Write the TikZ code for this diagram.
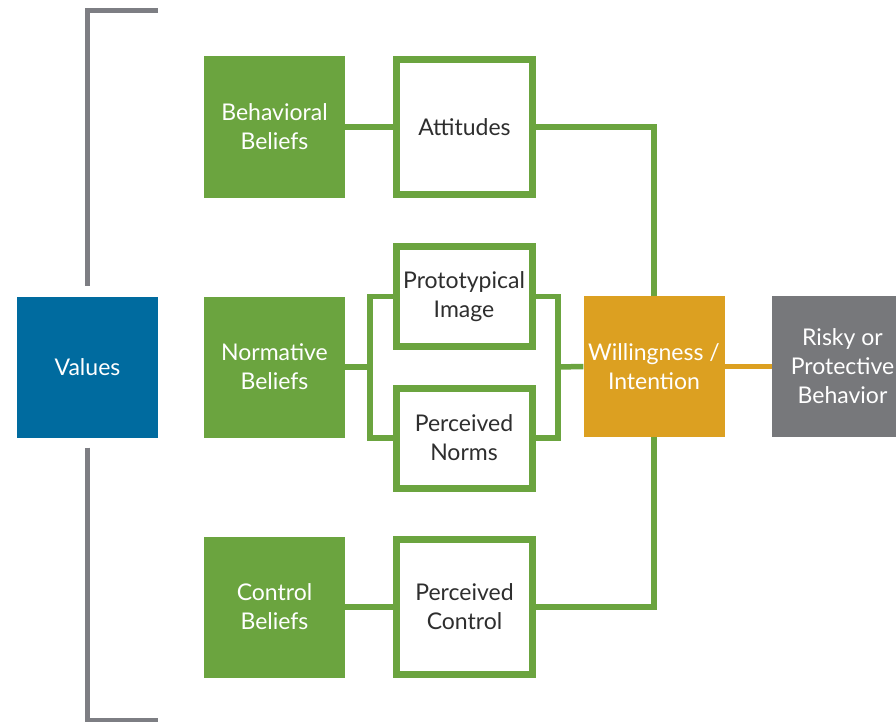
\documentclass[tikz,border=0pt]{standalone}
\usepackage{fontspec}
\setmainfont{Lato}
\usetikzlibrary{calc}
\definecolor{beliefgreen}{HTML}{6BA43F}
\definecolor{valueblue}{HTML}{006B9F}
\definecolor{willorange}{HTML}{DCA021}
\definecolor{behavgray}{HTML}{77787B}
\definecolor{bracketgray}{HTML}{7D7E83}
\definecolor{textdark}{HTML}{2E2E2E}
\begin{document}
\begin{tikzpicture}[x=1pt, y=-1pt,
    font=\fontsize{23}{29}\selectfont,
    block/.style={rectangle, inner sep=0pt, minimum width=141pt, minimum height=141pt, align=center, text=white},
    belief/.style={block, fill=beliefgreen},
    construct/.style={rectangle, inner sep=0pt, minimum width=136pt, draw=beliefgreen, line width=7pt, fill=white, align=center, text=textdark},
    link/.style={draw=beliefgreen, line width=5.5pt},
    bracket/.style={draw=bracketgray, line width=5pt}]
    \useasboundingbox (0,0) rectangle (896,722);
    \clip (0,0) rectangle (896,722);
    % Values
    \node[block, fill=valueblue] (vals) at (87.5,367) {Values};
    \coordinate (brtop) at (158,11);
    \coordinate (brbot) at (158,720);
    \draw[bracket] (brtop) -| ($(vals.north)+(0,-10)$);
    \draw[bracket] ($(vals.south)+(0,10)$) |- (brbot);
    % Beliefs
    \node[belief] (bb) at (274.5,127) {Behavioral\\Beliefs};
    \node[belief] (nb) at (274.5,367) {Normative\\Beliefs};
    \node[belief] (cb) at (274.5,607) {Control\\Beliefs};
    % Constructs
    \node[construct, minimum height=135pt] (att) at (464.5,127) {Attitudes};
    \node[construct, minimum height=100pt] (pi) at (464,296.5) {Prototypical\\Image};
    \node[construct, minimum height=100pt] (pn) at (464,438) {Perceived\\Norms};
    \node[construct, minimum height=135pt] (pc) at (464.5,607) {Perceived\\Control};
    % Willingness and behavior
    \node[block, fill=willorange] (will) at (654,366.5) {Willingness /\\Intention};
    \node[block, fill=behavgray] (risk) at (842.5,366.5) {Risky or\\Protective\\Behavior};
    % Links
    \coordinate (lj) at (370,367);
    \coordinate (rj) at (558,367);
    \draw[link] (bb) -- (att);
    \draw[link] (cb) -- (pc);
    \draw[link] (nb.east) -- (lj);
    \draw[link] (pi.west) -| (lj) |- (pn.west);
    \draw[link] (pi.east) -| (rj) |- (pn.east);
    \draw[link] (rj) -- (will.west);
    \draw[link] (att.east) -| (will.north);
    \draw[link] (pc.east) -| (will.south);
    \draw[draw=willorange, line width=5pt] (will) -- (risk);
\end{tikzpicture}
\end{document}
